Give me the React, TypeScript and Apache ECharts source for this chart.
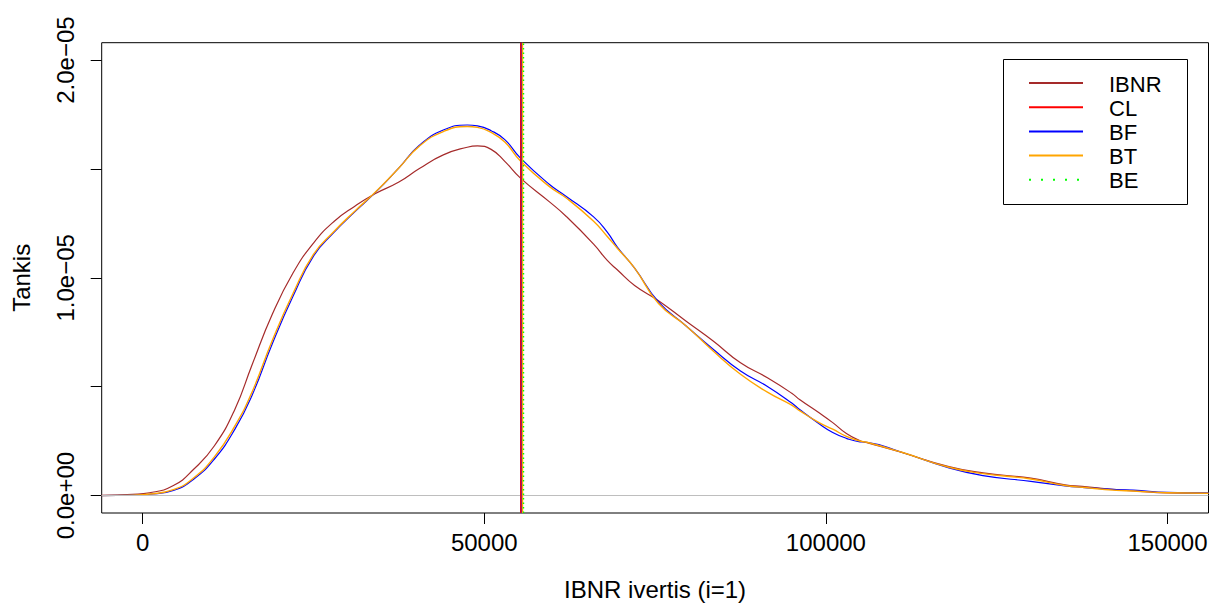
import { useEffect, useRef } from "react";
import * as echarts from "echarts";

// x grid (IBNR amount) shared by the density curves
const xs = [
  -6000, -1500, 1000, 4500, 7500, 10500, 13500, 16000, 19000, 22000, 25000, 28000,
  31000, 34000, 37500, 40500, 44000, 47500, 49000, 51000, 53000, 55300, 59500, 62000,
  66000, 68000, 69500, 72000, 75500, 79500, 83500, 87500, 91500, 95000, 96200, 99000,
  101000, 103000, 105000, 106000, 111000, 118000, 123000, 130000, 135000, 137500,
  142500, 145000, 150000, 156000,
];

// densities in units of 1e-5
const ibnrDensity = [
  0.001, 0.006, 0.013, 0.046, 0.122, 0.229, 0.397, 0.6, 0.835, 1.022, 1.16, 1.259,
  1.328, 1.386, 1.44, 1.502, 1.565, 1.6, 1.606, 1.59, 1.535, 1.458, 1.35, 1.282,
  1.155, 1.08, 1.036, 0.965, 0.895, 0.802, 0.71, 0.61, 0.54, 0.47, 0.44, 0.38,
  0.335, 0.285, 0.252, 0.243, 0.199, 0.133, 0.104, 0.08, 0.049, 0.042,
  0.027, 0.022, 0.012, 0.01,
];
const bfDensity = [
  0.0, 0.002, 0.006, 0.024, 0.076, 0.168, 0.305, 0.46, 0.7, 0.915, 1.1, 1.209,
  1.302, 1.39, 1.505, 1.609, 1.679, 1.702, 1.698, 1.676, 1.635, 1.55, 1.43, 1.374,
  1.28, 1.21, 1.14, 1.045, 0.89, 0.78, 0.672, 0.572, 0.5, 0.425, 0.394, 0.33,
  0.29, 0.263, 0.247, 0.245, 0.2, 0.127, 0.092, 0.065, 0.045, 0.038,
  0.027, 0.025, 0.015, 0.012,
];
const btDensity = [
  0.0, 0.002, 0.007, 0.027, 0.082, 0.178, 0.32, 0.475, 0.715, 0.928, 1.108, 1.213,
  1.305, 1.392, 1.505, 1.605, 1.672, 1.695, 1.691, 1.668, 1.624, 1.537, 1.42, 1.367,
  1.26, 1.19, 1.135, 1.045, 0.882, 0.78, 0.664, 0.557, 0.474, 0.415, 0.389, 0.335,
  0.305, 0.272, 0.25, 0.245, 0.2, 0.13, 0.101, 0.076, 0.046, 0.038,
  0.024, 0.021, 0.013, 0.011,
];
const DENSITY_UNIT = 1e-5;

// reserve estimates drawn as vertical lines
const refNames = ["CL", "BF", "BT", "BE"];
const refValues = [55290, 55380, 55560, 55660];

// legend entries
const legendNames = ["IBNR", "CL", "BF", "BT", "BE"];
const legendColors = ["#A52A2A", "#FF0000", "#0000FF", "#FFA500", "#00FF00"];

// ticks
const xTickValues = [0, 50000, 100000, 150000];
const xTickLabels = ["0", "50000", "100000", "150000"];
const yTickValues = [0, 0.5e-5, 1e-5, 1.5e-5, 2e-5];
const yLabelValues = [0, 1e-5, 2e-5];
const yTickLabels = ["0.0e+00", "1.0e\u221205", "2.0e\u221205"];

const FONT = "'Liberation Sans', Arial, Helvetica, sans-serif";

function pairs(ys: number[]) {
  return xs.map((x, i) => [x, ys[i] * DENSITY_UNIT]);
}

export default function App() {
  const ref = useRef<HTMLDivElement>(null);
  useEffect(() => {
    document.body.style.margin = "0";
    if (!ref.current) return;
    const chart = echarts.init(ref.current, undefined, { renderer: "svg" });

    const curveColor: Record<string, string> = {};
    legendNames.forEach((n, i) => (curveColor[n] = legendColors[i]));

    const curve = (name: string, ys: number[], color: string, width: number) => ({
      type: "line",
      name,
      data: pairs(ys),
      showSymbol: false,
      smooth: 0.5,
      lineStyle: { color, width },
    });

    const refStyle: Record<string, any> = {
      CL: { width: 2, type: "solid", opacity: 1 },
      BF: { width: 1.4, type: "solid", opacity: 0.55 },
      BT: { width: 1.4, type: "solid", opacity: 1 },
      BE: { width: 1.4, type: [1.5, 3], opacity: 1 },
    };

    const series: any[] = [
      {
        type: "line",
        name: "zero",
        data: [],
        silent: true,
        markLine: {
          silent: true,
          symbol: "none",
          label: { show: false },
          lineStyle: { color: "#BEBEBE", width: 1, type: "solid" },
          data: [{ yAxis: 0 }],
        },
      },
      curve("IBNR", ibnrDensity, curveColor["IBNR"], 1.2),
      curve("BFcurve", bfDensity, curveColor["BF"], 1.2),
      curve("BTcurve", btDensity, curveColor["BT"], 1.4),
    ];
    refNames.forEach((n, i) => {
      series.push({
        type: "line",
        name: n + "ref",
        data: [],
        markLine: {
          silent: true,
          symbol: "none",
          label: { show: false },
          lineStyle: { color: curveColor[n], ...refStyle[n] },
          data: [{ xAxis: refValues[i] }],
        },
      });
    });

    const lx0 = 1029;
    const lx1 = 1083;
    const ly0 = 83;
    const lstep = 24.2;
    const legendGraphics: any[] = [
      {
        type: "rect",
        shape: { x: 1003.5, y: 59.5, width: 184, height: 145 },
        style: { fill: "#fff", stroke: "#000", lineWidth: 1 },
        z: 100,
      },
    ];
    legendNames.forEach((n, i) => {
      const y = ly0 + i * lstep;
      legendGraphics.push({
        type: "line",
        shape: { x1: lx0, y1: y, x2: lx1, y2: y },
        style: {
          stroke: legendColors[i],
          lineWidth: 2,
          lineDash: n === "BE" ? [2, 10] : null,
        },
        z: 101,
      });
      legendGraphics.push({
        type: "text",
        x: 1109,
        y: y + 1,
        style: {
          text: n,
          fill: "#000",
          font: `22px ${FONT}`,
          lineHeight: 20,
          verticalAlign: "middle",
        },
        z: 101,
      });
    });

    chart.setOption({
      animation: false,
      backgroundColor: "#fff",
      textStyle: { fontFamily: FONT },
      grid: {
        left: 101.7,
        top: 42.7,
        width: 1106.8,
        height: 471.3,
        show: true,
        borderColor: "#000",
        borderWidth: 1,
        backgroundColor: "transparent",
        containLabel: false,
      },
      xAxis: {
        type: "value",
        min: -6000,
        max: 156000,
        name: "IBNR ivertis (i=1)",
        nameLocation: "middle",
        nameGap: 64,
        nameTextStyle: { fontSize: 24, color: "#000", fontFamily: FONT },
        axisLine: { show: false, onZero: false },
        splitLine: { show: false },
        axisTick: {
          show: true,
          inside: false,
          length: 11,
          customValues: xTickValues,
          lineStyle: { color: "#000", width: 1 },
        },
        axisLabel: {
          show: true,
          customValues: xTickValues,
          margin: 17,
          fontSize: 24,
          color: "#000",
          fontFamily: FONT,
          formatter: (v: number) => {
            const i = xTickValues.indexOf(v);
            return i >= 0 ? xTickLabels[i] : "";
          },
        },
      },
      yAxis: {
        type: "value",
        min: -0.08e-5,
        max: 2.08e-5,
        name: "Tankis",
        nameLocation: "middle",
        nameGap: 68,
        nameTextStyle: { fontSize: 24, color: "#000", fontFamily: FONT },
        axisLine: { show: false, onZero: false },
        splitLine: { show: false },
        axisTick: {
          show: true,
          inside: false,
          length: 11,
          customValues: yTickValues,
          lineStyle: { color: "#000", width: 1 },
        },
        axisLabel: {
          show: true,
          customValues: yLabelValues,
          rotate: 90,
          margin: 24,
          fontSize: 24,
          color: "#000",
          fontFamily: FONT,
          formatter: (v: number) => {
            let best = 0;
            yLabelValues.forEach((lv, i) => {
              if (Math.abs(lv - v) < Math.abs(yLabelValues[best] - v)) best = i;
            });
            return yTickLabels[best];
          },
        },
      },
      series,
      graphic: legendGraphics,
    });

    return () => chart.dispose();
  }, []);

  return <div ref={ref} style={{ width: 1211, height: 606 }} />;
}
